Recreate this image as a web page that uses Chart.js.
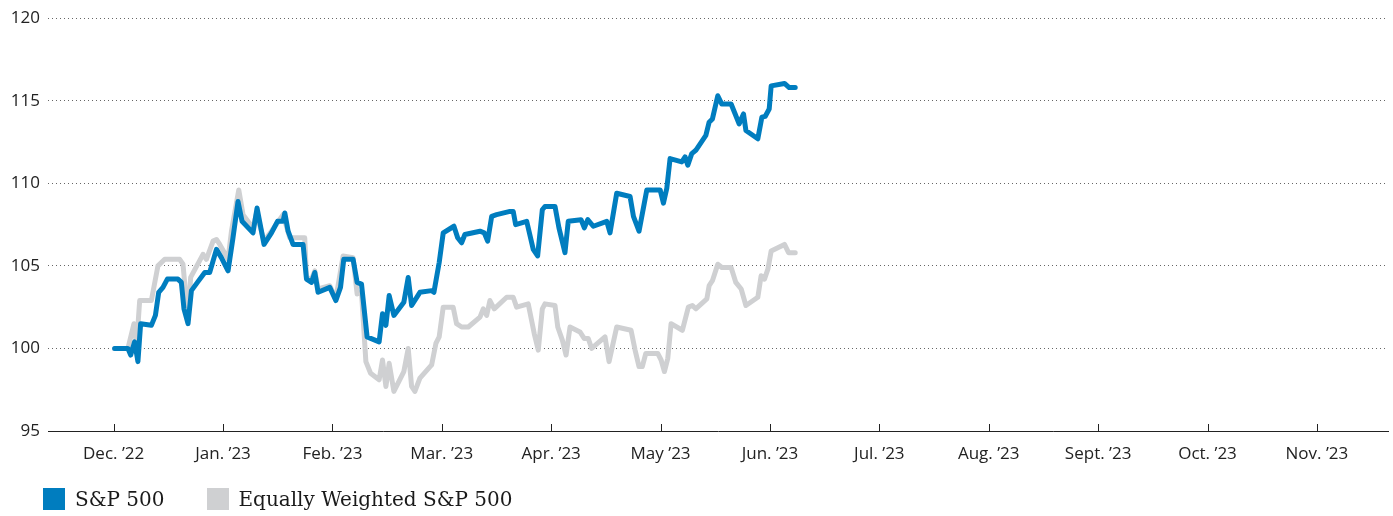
<!DOCTYPE html>
<html>
<head>
<meta charset="utf-8">
<script src="https://cdn.jsdelivr.net/npm/chart.js@4.4.0/dist/chart.umd.min.js"></script>
<style>
  html, body { margin: 0; padding: 0; background: #fff; }
  #wrap { position: relative; width: 1393px; height: 516px; }
  #legend { position: absolute; left: 43px; top: 488px; display: flex;
    font-family: "DejaVu Serif", serif; font-size: 20px; color: #1a1a1a; line-height: 22px; }
  .item { display: flex; align-items: center; margin-right: 42px; }
  .box { width: 22px; height: 22px; margin-right: 10px; }
</style>
</head>
<body>
<div id="wrap">
  <canvas id="myLineChart" width="1393" height="516"></canvas>
  <div id="legend"></div>
</div>
<script>
// x positions are months since 1 Dec 2022 (the axis spaces months evenly)
const monthLabels = ['Dec. ’22', 'Jan. ’23', 'Feb. ’23', 'Mar. ’23', 'Apr. ’23', 'May ’23',
  'Jun. ’23', 'Jul. ’23', 'Aug. ’23', 'Sept. ’23', 'Oct. ’23', 'Nov. ’23']
const yTicks = [95, 100, 105, 110, 115, 120]

const spxPos = [0.009, 0.131, 0.156, 0.192, 0.222, 0.247, 0.345, 0.382, 0.412, 0.451, 0.491, 0.588,
  0.619, 0.643, 0.680, 0.711, 0.766, 0.833, 0.878, 0.940, 0.985, 1.046, 1.091, 1.137, 1.174, 1.274,
  1.311, 1.375, 1.443, 1.498, 1.549, 1.565, 1.595, 1.640, 1.732, 1.763, 1.809, 1.839, 1.869, 1.976,
  2.031, 2.074, 2.104, 2.189, 2.226, 2.266, 2.317, 2.427, 2.458, 2.489, 2.519, 2.562, 2.653, 2.693,
  2.724, 2.800, 2.907, 2.928, 2.976, 3.013, 3.111, 3.145, 3.181, 3.211, 3.349, 3.388, 3.419, 3.456,
  3.501, 3.623, 3.653, 3.675, 3.776, 3.836, 3.876, 3.919, 3.943, 4.035, 4.071, 4.126, 4.156, 4.273,
  4.303, 4.334, 4.385, 4.508, 4.538, 4.599, 4.721, 4.752, 4.803, 4.874, 4.996, 5.026, 5.057, 5.087,
  5.194, 5.224, 5.249, 5.285, 5.322, 5.414, 5.444, 5.474, 5.523, 5.560, 5.645, 5.682, 5.718, 5.758,
  5.780, 5.889, 5.926, 5.956, 5.993, 6.011, 6.133, 6.176, 6.231]
const spxVal = [100, 100, 99.6, 100.4, 99.2, 101.5, 101.4, 102.0, 103.4, 103.7, 104.2, 104.2,
  104.0, 102.4, 101.5, 103.5, 104.0, 104.6, 104.6, 106.0, 105.5, 104.7, 106.7, 108.9, 107.7, 107.0,
  108.5, 106.3, 107.0, 107.7, 107.7, 108.2, 107.1, 106.3, 106.3, 104.2, 104.0, 104.6, 103.4, 103.7,
  102.9, 103.7, 105.4, 105.4, 104.0, 103.9, 100.7, 100.4, 102.1, 101.4, 103.2, 102.0, 102.8, 104.3,
  102.6, 103.4, 103.5, 103.4, 105.2, 107.0, 107.4, 106.7, 106.4, 106.9, 107.1, 107.0, 106.5, 108.0,
  108.1, 108.3, 108.3, 107.5, 107.7, 106.0, 105.6, 108.4, 108.6, 108.6, 107.3, 105.8, 107.7, 107.8,
  107.3, 107.8, 107.4, 107.7, 107.0, 109.4, 109.2, 108.0, 107.1, 109.6, 109.6, 108.8, 109.7, 111.5,
  111.3, 111.6, 111.1, 111.8, 112.0, 112.9, 113.7, 113.9, 115.3, 114.8, 114.8, 114.2, 113.6, 114.2,
  113.2, 112.7, 114.0, 114.05, 114.5, 115.9, 116.05, 115.8, 115.8]

const ewPos = [0.009, 0.131, 0.186, 0.210, 0.238, 0.345, 0.405, 0.467, 0.604, 0.634, 0.680, 0.704,
  0.817, 0.848, 0.909, 0.940, 0.970, 1.046, 1.077, 1.144, 1.183, 1.274, 1.306, 1.375, 1.443, 1.549,
  1.610, 1.747, 1.763, 1.809, 1.839, 1.869, 1.976, 2.031, 2.098, 2.189, 2.226, 2.266, 2.306, 2.349,
  2.427, 2.458, 2.489, 2.519, 2.562, 2.653, 2.693, 2.724, 2.754, 2.800, 2.907, 2.946, 2.976, 3.013,
  3.104, 3.135, 3.181, 3.242, 3.349, 3.379, 3.410, 3.440, 3.479, 3.593, 3.653, 3.684, 3.790, 3.845,
  3.882, 3.919, 3.943, 4.035, 4.060, 4.102, 4.136, 4.172, 4.263, 4.303, 4.339, 4.370, 4.492, 4.529,
  4.599, 4.730, 4.767, 4.803, 4.833, 4.865, 4.974, 5.005, 5.035, 5.066, 5.096, 5.199, 5.254, 5.291,
  5.322, 5.423, 5.444, 5.474, 5.523, 5.560, 5.645, 5.688, 5.737, 5.780, 5.889, 5.919, 5.950, 5.981,
  6.011, 6.133, 6.170, 6.231]
const ewVal = [100, 100, 101.5, 100.2, 102.9, 102.9, 105.0, 105.4, 105.4, 105.1, 101.7, 104.3,
  105.7, 105.4, 106.5, 106.6, 106.3, 105.4, 107.1, 109.6, 108.1, 107.3, 108.2, 106.5, 107.1, 108.1,
  106.7, 106.7, 104.3, 104.2, 104.7, 103.6, 103.8, 103.0, 105.6, 105.5, 103.3, 103.4, 99.2, 98.5,
  98.1, 99.3, 97.7, 99.1, 97.4, 98.6, 100.0, 97.7, 97.4, 98.2, 99.0, 100.3, 100.7, 102.5,
  102.5, 101.5, 101.3, 101.3, 101.9, 102.4, 102.0, 102.9, 102.4, 103.1, 103.1, 102.5, 102.7, 100.9,
  99.9, 102.4, 102.7, 102.6, 101.3, 100.5, 99.6, 101.3, 101.0, 100.6, 100.6, 100.0, 100.7, 99.2,
  101.3, 101.1, 99.9, 98.9, 98.9, 99.7, 99.7, 99.3, 98.6, 99.4, 101.5, 101.1, 102.5, 102.6,
  102.4, 103.0, 103.8, 104.1, 105.1, 104.9, 104.9, 104.0, 103.6, 102.6, 103.1, 104.4, 104.2, 104.8,
  105.9, 106.3, 105.8, 105.8]

const blue = '#007dbf'
const grey = '#cfd0d2'
const sansFont = { family: '"Open Sans", sans-serif', size: 17 }

function toPoints(xs, ys) {
  return xs.map((x, i) => ({ x: x, y: ys[i] }))
}

// little upward tick marks on the month axis
const monthTicks = {
  id: 'monthTicks',
  afterDraw(chart) {
    const xs = chart.scales.x
    const c = chart.ctx
    const b = chart.chartArea.bottom
    c.save()
    c.strokeStyle = '#222'
    c.lineWidth = 1
    xs.ticks.forEach((t) => {
      const px = Math.round(xs.getPixelForValue(t.value)) + 0.5
      c.beginPath()
      c.moveTo(px, b)
      c.lineTo(px, b - 7)
      c.stroke()
    })
    c.restore()
  },
}

const ctx = document.getElementById('myLineChart').getContext('2d')
let lineChart = new Chart(ctx, {
  type: 'line',
  data: {
    datasets: [
      {
        label: 'S&P 500',
        data: toPoints(spxPos, spxVal),
        borderColor: blue,
        backgroundColor: blue,
        borderWidth: 5,
        pointRadius: 0,
        tension: 0,
        borderJoinStyle: 'round',
        borderCapStyle: 'round',
        order: 1,
      },
      {
        label: 'Equally Weighted S&P 500',
        data: toPoints(ewPos, ewVal),
        borderColor: grey,
        backgroundColor: grey,
        borderWidth: 5,
        pointRadius: 0,
        tension: 0,
        borderJoinStyle: 'round',
        borderCapStyle: 'round',
        order: 2,
      },
    ],
  },
  options: {
    responsive: false,
    animation: false,
    layout: { padding: { top: 15, right: 5, bottom: 45, left: 0 } },
    plugins: {
      legend: { display: false },
      tooltip: { enabled: false },
    },
    scales: {
      x: {
        type: 'linear',
        min: -0.6,
        max: 11.65,
        afterBuildTicks: (scale) => {
          scale.ticks = monthLabels.map((_, i) => ({ value: i }))
        },
        afterFit: (scale) => { scale.height = 40 },
        ticks: {
          callback: (v) => monthLabels[v],
          font: sansFont,
          color: '#222',
          padding: 5,
          maxRotation: 0,
          autoSkip: false,
        },
        grid: { display: false },
        border: { display: true, color: '#222', width: 1 },
      },
      y: {
        min: 95,
        max: 120,
        afterBuildTicks: (scale) => {
          scale.ticks = yTicks.map((v) => ({ value: v }))
        },
        afterFit: (scale) => { scale.width = 48 },
        ticks: { font: sansFont, color: '#222', padding: 8 },
        grid: { color: '#666', lineWidth: 1, drawTicks: false },
        border: { display: false, dash: [1, 3] },
      },
    },
  },
  plugins: [monthTicks],
})

// legend drawn as html under the plot
const legendEl = document.getElementById('legend')
lineChart.data.datasets.forEach((ds) => {
  const item = document.createElement('div')
  item.className = 'item'
  item.innerHTML = '<span class="box" style="background:' + ds.borderColor + '"></span><span></span>'
  item.lastChild.textContent = ds.label
  legendEl.appendChild(item)
})
</script>
</body>
</html>
